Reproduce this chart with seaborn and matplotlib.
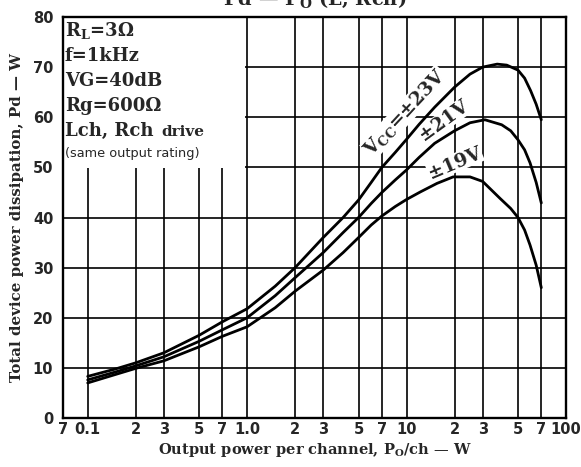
import numpy as np
import pandas as pd
import matplotlib
matplotlib.use("Agg")
import matplotlib.pyplot as plt
import seaborn as sns

# ---- data ----
po_23 = [0.1, 0.15, 0.2, 0.3, 0.5, 0.7, 1.0, 1.5, 2, 3, 4, 5, 6, 7, 8.5, 10, 12, 15,
         20, 25, 30, 37, 42.5, 50, 55, 60, 65, 70]
pd_23 = [8.3, 9.8, 11.0, 13.0, 16.5, 19.2, 21.8, 26.3, 30.0, 36.0, 40.0, 43.5, 47.0,
         50.0, 53.0, 55.6, 58.6, 62.0, 66.0, 68.6, 70.0, 70.6, 70.4, 69.4, 67.8, 65.3,
         62.6, 59.5]

po_21 = [0.1, 0.15, 0.2, 0.3, 0.5, 0.7, 1.0, 1.5, 2, 3, 4, 5, 6, 7, 8.5, 10, 12, 15,
         20, 25, 31, 39.5, 45, 50, 55, 59.5, 65, 70]
pd_21 = [7.6, 9.2, 10.4, 12.2, 15.3, 17.6, 20.0, 24.4, 28.0, 33.0, 37.0, 40.0, 42.8,
         45.0, 47.5, 49.5, 52.0, 54.8, 57.3, 58.9, 59.5, 58.5, 57.3, 55.5, 53.5, 50.9,
         47.0, 42.9]

po_19 = [0.1, 0.15, 0.2, 0.3, 0.5, 0.7, 1.0, 1.5, 2, 3, 4, 5, 6, 7, 8.5, 10, 12.2,
         15.5, 19.6, 25, 30, 38.6, 45, 50, 55, 59.5, 65, 70]
pd_19 = [7.0, 8.7, 9.9, 11.4, 14.2, 16.3, 18.2, 22.0, 25.3, 29.5, 33.0, 36.0, 38.5,
         40.3, 42.2, 43.6, 45.1, 46.8, 48.1, 48.1, 47.2, 43.8, 41.8, 40.0, 37.5, 34.5,
         30.5, 26.0]

series_names = ["±23V", "±21V", "±19V"]

x_ticks = [0.07, 0.1, 0.2, 0.3, 0.5, 0.7, 1.0, 2, 3, 5, 7, 10, 20, 30, 50, 70, 100]
x_tick_labels = ["7", "0.1", "2", "3", "5", "7", "1.0", "2", "3", "5", "7", "10",
                 "2", "3", "5", "7", "100"]
y_ticks = [0, 10, 20, 30, 40, 50, 60, 70, 80]

cond_lines = [r"$\mathbf{R_L}$=3Ω", "f=1kHz", "VG=40dB", "Rg=600Ω"]

# ---- build long-form frame ----
frames = []
for name, xs, ys in zip(series_names, [po_23, po_21, po_19], [pd_23, pd_21, pd_19]):
    frames.append(pd.DataFrame({"Po": xs, "Pd": ys, "Vcc": name}))
df = pd.concat(frames, ignore_index=True)

sns.set_style("white")
plt.rcParams["font.family"] = ["DejaVu Sans"]
plt.rcParams["mathtext.fontset"] = "dejavuserif"

fig = plt.figure(figsize=(5.81, 4.67), dpi=100)
ax = fig.add_axes([63 / 581, 1 - 418 / 467, 503 / 581, 401 / 467])

sns.lineplot(data=df, x="Po", y="Pd", hue="Vcc", units="Vcc", estimator=None,
             palette=["black", "black", "black"], linewidth=2.0, legend=False,
             ax=ax, zorder=5, sort=False)

ax.set_xscale("log")
ax.set_xlim(0.07, 100)
ax.set_ylim(0, 80)
ax.set_xticks(x_ticks)
ax.set_xticklabels(x_tick_labels)
ax.xaxis.set_minor_locator(matplotlib.ticker.NullLocator())
ax.set_yticks(y_ticks)
ax.set_yticklabels([str(v) for v in y_ticks])
ax.tick_params(axis="both", length=0, labelsize=10.5)
ax.tick_params(axis="x", pad=3)
ax.tick_params(axis="y", pad=7)
for lab in ax.get_xticklabels() + ax.get_yticklabels():
    lab.set_fontweight("bold")

ax.grid(True, which="major", color="black", linewidth=1.2)
for sp in ax.spines.values():
    sp.set_color("black")
    sp.set_linewidth(1.7)
    sp.set_zorder(10)

# white area behind the condition block
ax.fill_between([0.07, 0.975], 49.8, 80, color="white", zorder=3, linewidth=0)

serif = "DejaVu Serif"
ytxt = [77.4, 72.3, 67.3, 62.3]
for t, yy in zip(cond_lines, ytxt):
    ax.text(0.0718, yy, t, fontsize=13, fontweight="bold", family=serif,
            va="center", ha="left", zorder=6)
ax.text(0.0718, 57.3, "Lch, Rch", fontsize=13, fontweight="bold", family=serif,
        va="center", ha="left", zorder=6)
ax.text(0.29, 57.1, "drive", fontsize=11, fontweight="bold", family=serif,
        va="center", ha="left", zorder=6)
ax.text(0.0718, 52.8, "(same output rating)", fontsize=9.3, family="DejaVu Sans",
        va="center", ha="left", zorder=6)

# curve labels (drawn under the curves, over the grid)
box = dict(facecolor="white", edgecolor="none", pad=0.3)
ax.text(9.8, 61.0, r"V$_{\mathbf{CC}}$=±23V", fontsize=13.5, fontweight="bold",
        family=serif, rotation=47, ha="center", va="center", zorder=4, bbox=box)
ax.text(17.2, 59.3, "±21V", fontsize=13.5, fontweight="bold", family=serif,
        rotation=36, ha="center", va="center", zorder=4, bbox=box)
ax.text(20.1, 50.9, "±19V", fontsize=13.5, fontweight="bold", family=serif,
        rotation=23, ha="center", va="center", zorder=4, bbox=box)

ax.set_xlabel(r"Output power per channel, P$_{\mathbf{O}}$/ch — W", fontsize=10.5,
              fontweight="bold", family=serif, labelpad=3)
ax.set_ylabel("Total device power dissipation, Pd — W", fontsize=10.8,
              fontweight="bold", family=serif, labelpad=6)

fig.text(315 / 581, 1 - 5 / 467, r"Pd — P$_{\mathbf{O}}$ (L, Rch)", fontsize=14,
         fontweight="bold", family=serif, ha="center", va="baseline")

fig.savefig("out.png", dpi=100)
